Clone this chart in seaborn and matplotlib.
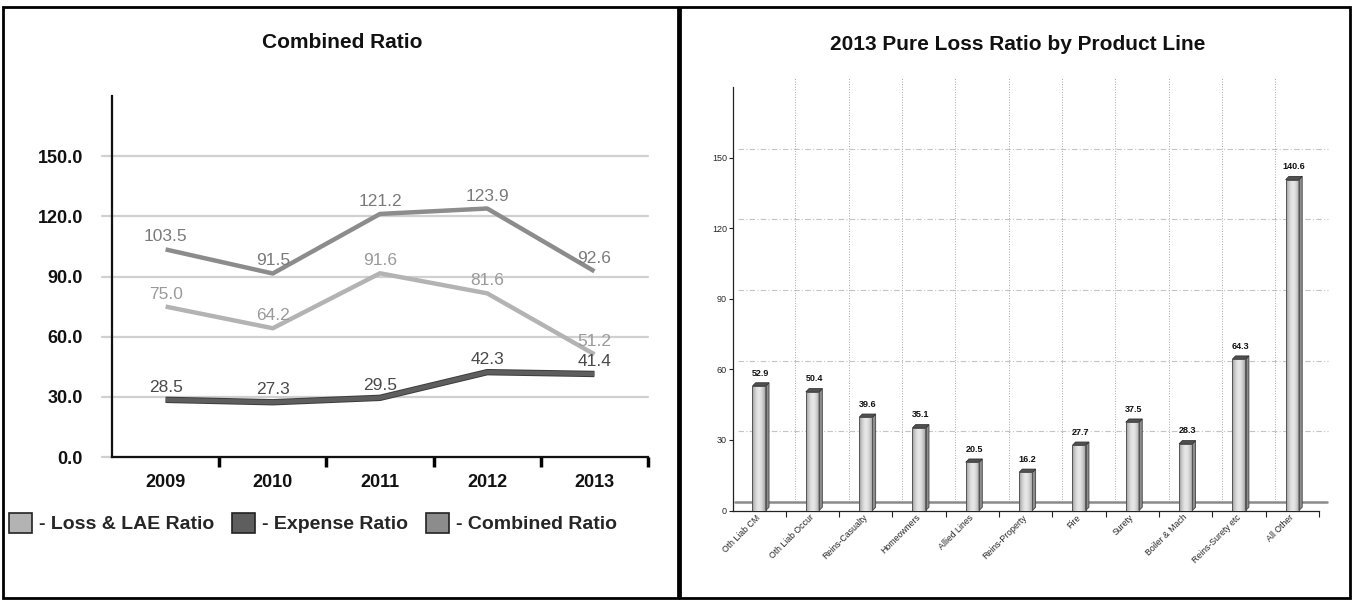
import numpy as np
import pandas as pd
import matplotlib
matplotlib.use("Agg")
import matplotlib.pyplot as plt
import matplotlib.patheffects as pe
from matplotlib.patches import Rectangle, Polygon, Patch
from matplotlib.ticker import FormatStrFormatter
import seaborn as sns

# ---- data: combined ratio by year ----
years = ["2009", "2010", "2011", "2012", "2013"]
loss_lae = [75.0, 64.2, 91.6, 81.6, 51.2]
expense = [28.5, 27.3, 29.5, 42.3, 41.4]
combined = [103.5, 91.5, 121.2, 123.9, 92.6]
series_names = ["Loss & LAE Ratio", "Expense Ratio", "Combined Ratio"]
ratio_ticks = [0, 30, 60, 90, 120, 150]

# ---- data: 2013 pure loss ratio by product line ----
product_lines = ["Oth Liab CM", "Oth Liab Occur", "Reins-Casualty", "Homeowners",
                 "Allied Lines", "Reins-Property", "Fire", "Surety",
                 "Boiler & Mach", "Reins-Surety etc", "All Other"]
pure_loss = [52.9, 50.4, 39.6, 35.1, 20.5, 16.2, 27.7, 37.5, 28.3, 64.3, 140.6]

sns.set_theme(style="white")
plt.rcParams["font.family"] = ["Liberation Sans", "DejaVu Sans"]

W, H = 1354, 601
fig = plt.figure(figsize=(W / 100, H / 100), dpi=100)


def fx(px):
    return px / W


def fy(py):
    return 1 - py / H


# panel frames
for x0, x1 in [(3, 678), (680, 1350)]:
    fig.patches.append(Rectangle((fx(x0), fy(598)), fx(x1 - x0), (598 - 7) / H,
                                 transform=fig.transFigure, fill=False,
                                 edgecolor="black", linewidth=2))

# ================= left: Combined Ratio line chart =================
ax1 = fig.add_axes([fx(112), fy(457), fx(536), 361 / H])
df = pd.DataFrame({
    "year": years * 3,
    "ratio": loss_lae + expense + combined,
    "series": np.repeat(series_names, len(years)),
})
df["pos"] = df["year"].map({y: i for i, y in enumerate(years)})
line_colors = {"Loss & LAE Ratio": "#b3b3b3", "Expense Ratio": "#5e5e5e",
               "Combined Ratio": "#8c8c8c"}
label_colors = {"Loss & LAE Ratio": "#9a9a9a", "Expense Ratio": "#4a4a4a",
                "Combined Ratio": "#7a7a7a"}

for v in ratio_ticks:
    ax1.axhline(v, xmin=-10 / 536, xmax=1, color="#d0d0d0", lw=1.6,
                clip_on=False, zorder=0)

sns.lineplot(data=df, x="pos", y="ratio", hue="series", palette=line_colors,
             linewidth=3.2, legend=False, ax=ax1, sort=False, zorder=3)
for line in ax1.get_lines()[len(ratio_ticks):]:
    line.set_solid_capstyle("butt")
exp_line = [l for l in ax1.get_lines() if l.get_color() in ("#5e5e5e",)]
for l in exp_line:
    l.set_path_effects([pe.Stroke(linewidth=4.6, foreground="#3c3c3c"), pe.Normal()])

for name in series_names:
    sub = df[df["series"] == name]
    for p, v in zip(sub["pos"], sub["ratio"]):
        ax1.annotate(f"{v:.1f}", (p, v), xytext=(0, 9), textcoords="offset points",
                     ha="center", va="center", fontsize=12.5,
                     color=label_colors[name], zorder=5)

ax1.set_xlim(-0.5, len(years) - 0.5)
ax1.set_ylim(0, 180)
ax1.set_xlabel("")
ax1.set_ylabel("")
ax1.set_yticks(ratio_ticks)
ax1.yaxis.set_major_formatter(FormatStrFormatter("%.1f"))
ax1.set_xticks(range(len(years)))
ax1.set_xticklabels(years)
ax1.set_xticks(np.arange(len(years)) + 0.5, minor=True)
ax1.tick_params(axis="y", length=0, pad=21, labelsize=13)
ax1.tick_params(axis="x", which="major", length=0, pad=12, labelsize=13)
ax1.tick_params(axis="x", which="minor", length=7, width=2.5, color="black",
                direction="out", bottom=True)
for t in ax1.get_xticklabels() + ax1.get_yticklabels():
    t.set_fontweight("bold")
    t.set_color("#111111")
for s in ["top", "right"]:
    ax1.spines[s].set_visible(False)
for s in ["left", "bottom"]:
    ax1.spines[s].set_color("#111111")
    ax1.spines[s].set_linewidth(1.6)

handles = [Patch(facecolor=line_colors[n], edgecolor="#222222", linewidth=1.2)
           for n in series_names]
fig.legend(handles, ["- " + n for n in series_names], loc="center left",
           bbox_to_anchor=(fx(9), fy(523)), ncol=3, frameon=False,
           prop=dict(weight="bold", size=14), handlelength=1.2, handleheight=1.2,
           handletextpad=0.35, columnspacing=0.9, borderaxespad=0, borderpad=0)

fig.text(fx(342), fy(43), "Combined Ratio", ha="center", va="center",
         fontsize=15, fontweight="bold", color="#111111")

# ================= right: Pure Loss Ratio bar chart =================
ax2 = fig.add_axes([fx(732.5), fy(510.5), fx(586.5), 423.5 / H])
dfb = pd.DataFrame({"line": product_lines, "ratio": pure_loss})

depth_x, depth_y = 0.18, 3.7          # receding offset of the 3-D back wall
cap_x, cap_y = 0.06, 1.4              # bar side / top depth

for v in ratio_ticks[1:]:
    ax2.axhline(v + depth_y, xmin=0.01, xmax=1.015, color="#c4c4c4", lw=0.8,
                ls=(0, (5, 2, 1, 2)), clip_on=False, zorder=1)
ax2.vlines(np.arange(len(product_lines) - 1) + 0.5 + depth_x, depth_y, 180 + depth_y,
           colors="#a8a8a8", lw=0.7, linestyles=":", clip_on=False, zorder=1)
ax2.axhline(depth_y, xmin=0.005, xmax=1.013, color="#8a8a8a", lw=1.8,
            clip_on=False, zorder=2)

sns.barplot(data=dfb, x="line", y="ratio", color="#cccccc", width=0.25,
            edgecolor="#555555", linewidth=0.7, ax=ax2, zorder=3)

grad = np.linspace(0, 1, 24)
grad = np.vstack([0.55 + 0.35 * np.sin(np.pi * (grad * 0.9 + 0.05))] * 2)
for p, v in zip(ax2.patches, pure_loss):
    x0, w, h = p.get_x(), p.get_width(), p.get_height()
    im = ax2.imshow(grad, extent=[x0, x0 + w, 0, h], aspect="auto", cmap="gray",
                    vmin=0, vmax=1, zorder=3.2, interpolation="bilinear")
    im.set_clip_path(p)
    ax2.add_patch(Polygon([(x0 + w, 0), (x0 + w + cap_x, cap_y),
                           (x0 + w + cap_x, h + cap_y), (x0 + w, h)],
                          closed=True, facecolor="#8d8d8d", edgecolor="#444444",
                          linewidth=0.6, zorder=3.4))
    ax2.add_patch(Polygon([(x0, h), (x0 + w, h), (x0 + w + cap_x, h + cap_y),
                           (x0 + cap_x, h + cap_y)],
                          closed=True, facecolor="#505050", edgecolor="#333333",
                          linewidth=0.6, zorder=3.4))
    edge = Rectangle((x0, 0), w, h, fill=False, edgecolor="#555555",
                     linewidth=0.7, zorder=3.5)
    ax2.add_patch(edge)
    ax2.annotate(f"{v:.1f}", (x0 + w / 2 + cap_x / 2, h + cap_y), xytext=(0, 7),
                 textcoords="offset points", ha="center", va="center",
                 fontsize=6.5, fontweight="bold", color="#111111", zorder=5)

ax2.set_xlim(-0.5, len(product_lines) - 0.5)
ax2.set_ylim(0, 180)
ax2.set_xlabel("")
ax2.set_ylabel("")
ax2.set_yticks(ratio_ticks)
ax2.set_yticklabels([str(v) for v in ratio_ticks])
ax2.set_xticks(range(len(product_lines)))
ax2.set_xticklabels(product_lines, rotation=45, ha="right", va="center",
                    rotation_mode="anchor")
ax2.set_xticks(np.arange(len(product_lines)) + 0.5, minor=True)
ax2.tick_params(axis="y", length=3, width=0.8, pad=1, labelsize=6.5,
                color="#222222", left=True)
ax2.tick_params(axis="x", which="major", length=0, pad=4, labelsize=6.3)
ax2.tick_params(axis="x", which="minor", length=4, width=0.8, color="#222222",
                direction="out", bottom=True)
for s in ["top", "right"]:
    ax2.spines[s].set_visible(False)
for s in ["left", "bottom"]:
    ax2.spines[s].set_color("#222222")
    ax2.spines[s].set_linewidth(0.9)

fig.text(fx(1018), fy(44), "2013 Pure Loss Ratio by Product Line", ha="center",
         va="center", fontsize=15, fontweight="bold", color="#111111")

fig.savefig("out.png", dpi=100, facecolor="white")
